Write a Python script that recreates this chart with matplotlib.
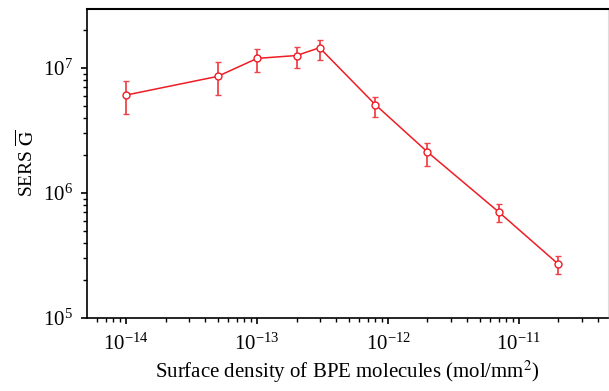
import matplotlib
matplotlib.use("Agg")
import matplotlib.pyplot as plt

# Surface density (mol/mm^2) and SERS enhancement
density = [1e-14, 5e-14, 1e-13, 2e-13, 3e-13, 8e-13, 2e-12, 7e-12, 2e-11]
gain = [6.08e6, 8.58e6, 1.195e7, 1.26e7, 1.455e7, 5.09e6, 2.13e6, 7.05e5, 2.69e5]
err_hi = [7.87e6, 1.12e7, 1.42e7, 1.47e7, 1.68e7, 5.9e6, 2.53e6, 8.17e5, 3.15e5]
err_lo = [4.31e6, 6.1e6, 9.33e6, 1.0e7, 1.15e7, 4.04e6, 1.64e6, 5.86e5, 2.24e5]
xticks = [1e-14, 1e-13, 1e-12, 1e-11]
yticks = [1e5, 1e6, 1e7]

plt.rcParams['font.family'] = ['Liberation Serif', 'DejaVu Serif']
plt.rcParams['mathtext.fontset'] = 'stix'

fig = plt.figure(figsize=(6.09, 3.91), dpi=100)
ax = fig.add_axes([0.1429, 0.1867, 0.8555, 0.7903])

yerr = [[g - l for g, l in zip(gain, err_lo)], [h - g for g, h in zip(gain, err_hi)]]
ax.errorbar(density, gain, yerr=yerr, color='#ee1c25', ecolor='#f0444c',
            elinewidth=1.3, capsize=2.5, capthick=1.3, lw=1.1,
            marker='o', ms=5, mfc='white', mec='#ee1c25', mew=1)

ax.set_xscale('log')
ax.set_yscale('log')
ax.set_xticks(xticks)
ax.set_yticks(yticks)
ax.set_xlim(5.03e-15, 4.78e-11)
ax.set_ylim(1e5, 2.97e7)

ax.spines['right'].set_color('#dddddd')
ax.spines['right'].set_linewidth(0.8)
ax.spines['top'].set_linewidth(1.5)
ax.spines['left'].set_linewidth(1.2)
ax.spines['bottom'].set_linewidth(1.2)
ax.tick_params(which='both', direction='out', top=False, right=False, labelsize=15)
ax.tick_params(which='major', length=4, width=1.2, pad=7)
ax.tick_params(axis='y', which='major', pad=6)
ax.tick_params(which='minor', length=3, width=1)

ax.set_xlabel('Surface density of BPE molecules (mol/mm$^2$)', fontsize=15, labelpad=3)
ax.set_ylabel(r'SERS $\overline{\mathrm{G}}$', fontsize=14, labelpad=4)

fig.savefig('out.png', dpi=100)
